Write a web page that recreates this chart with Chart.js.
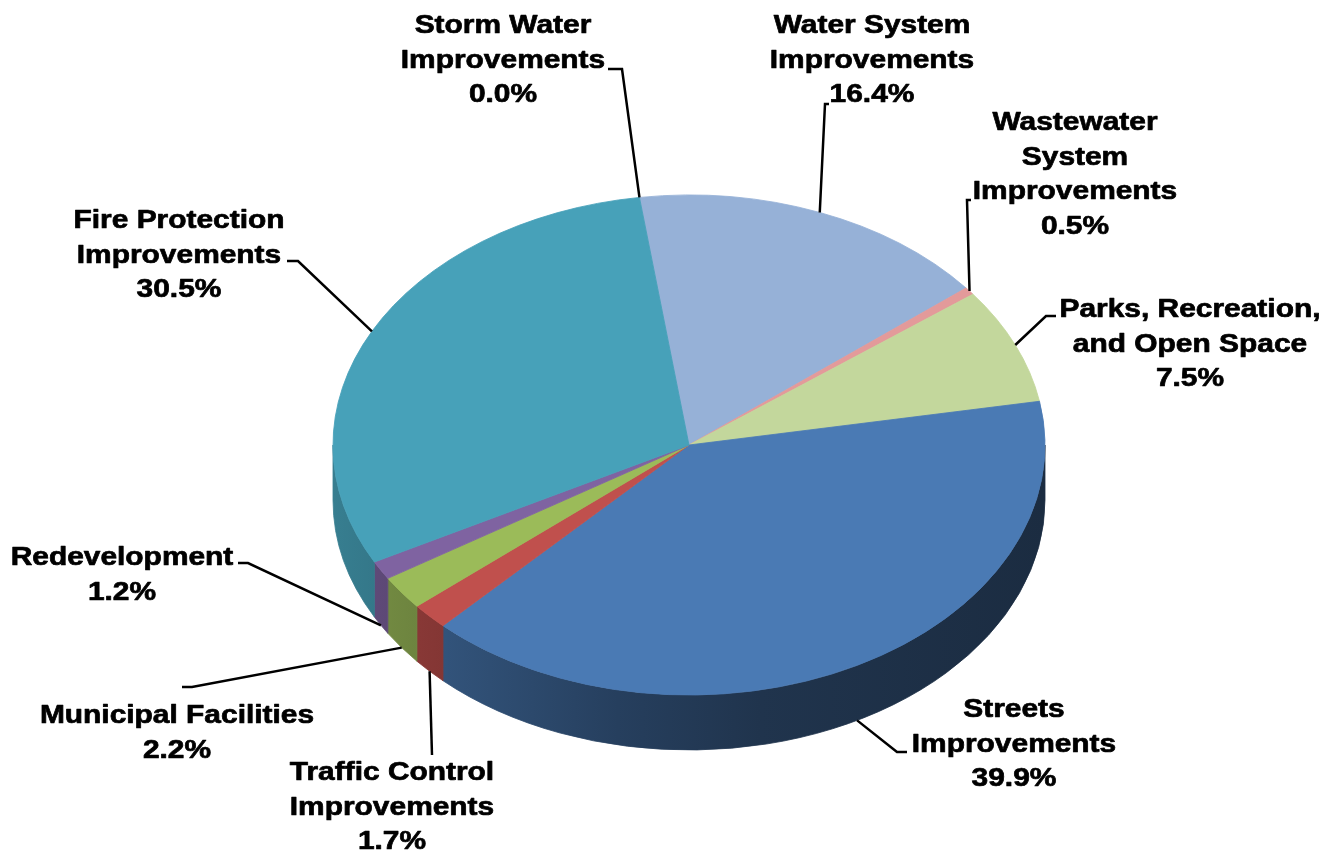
<!DOCTYPE html>
<html>
<head>
<meta charset="utf-8">
<title>Capital Improvements by Category</title>
<script src="https://cdn.jsdelivr.net/npm/chart.js@4.4.1/dist/chart.umd.min.js"></script>
<style>
  html, body { margin: 0; padding: 0; background: #fff; }
  #wrap { width: 1329px; height: 855px; }
</style>
</head>
<body>
<div id="wrap"><canvas id="pie" width="1329" height="855"></canvas></div>
<script>
// --- data ---
const categories = [
  'Storm Water Improvements', 'Water System Improvements', 'Wastewater System Improvements',
  'Parks, Recreation, and Open Space', 'Streets Improvements', 'Traffic Control Improvements',
  'Municipal Facilities', 'Redevelopment', 'Fire Protection Improvements'
];
const labelLines = [
  ['Storm Water', 'Improvements'],
  ['Water System', 'Improvements'],
  ['Wastewater', 'System', 'Improvements'],
  ['Parks, Recreation,', 'and Open Space'],
  ['Streets', 'Improvements'],
  ['Traffic Control', 'Improvements'],
  ['Municipal Facilities'],
  ['Redevelopment'],
  ['Fire Protection', 'Improvements']
];
const shares = [0.0, 16.4, 0.5, 7.5, 39.9, 1.7, 2.2, 1.2, 30.5];
const sliceColors = ['#F79646', '#96B1D7', '#E39A9A', '#C3D79C', '#4A7AB4', '#C0504D', '#9BBB59', '#7F63A1', '#47A1B9'];

// --- layout ---
const TILT = 250 / 356;   // vertical squash of the pie top
const DEPTH = 55;         // thickness of the 3d side
const LINE_H = 34.5;
const labelX = [503, 872, 1075, 1190, 1014, 392, 177, 122, 179];
const labelY = [33, 33, 130, 317, 717, 780, 723, 565, 228];
// leader line: elbow x, elbow y, end x
const elbows = [
  [622, 69, 608], [825, 104, 829], [967, 200, 971], [1046, 316, 1056], [897, 752, 907],
  [432, 755, 432], [192, 687, 182], [248, 563, 238], [298, 261, 287]
];
// side wall brightness from left to right
const shadeStops = [[0, 0.78], [0.16, 0.68], [0.4, 0.52], [0.6, 0.43], [1, 0.36]];

function shade(hex, f) {
  const n = parseInt(hex.slice(1), 16);
  const r = Math.round(((n >> 16) & 255) * f);
  const g = Math.round(((n >> 8) & 255) * f);
  const b = Math.round((n & 255) * f);
  return 'rgb(' + r + ',' + g + ',' + b + ')';
}

const pie3d = {
  id: 'pie3d',
  beforeDatasetsDraw(chart) {
    const ctx = chart.ctx;
    const arcs = chart.getDatasetMeta(0).data;
    const cx = arcs[0].x, cy = arcs[0].y, rx = arcs[0].outerRadius, ry = rx * TILT;

    arcs.forEach((arc, i) => {
      const s = Math.max(arc.startAngle, 0);
      const e = Math.min(arc.endAngle, Math.PI);
      if (e <= s) return;
      const grad = ctx.createLinearGradient(cx - rx, 0, cx + rx, 0);
      shadeStops.forEach(([p, f]) => grad.addColorStop(p, shade(sliceColors[i], f)));
      ctx.beginPath();
      ctx.ellipse(cx, cy, rx, ry, 0, s, e);
      ctx.lineTo(cx + rx * Math.cos(e), cy + ry * Math.sin(e) + DEPTH);
      ctx.ellipse(cx, cy + DEPTH, rx, ry, 0, e, s, true);
      ctx.closePath();
      ctx.fillStyle = grad;
      ctx.fill();
      ctx.strokeStyle = grad;
      ctx.lineWidth = 0.8;
      ctx.stroke();
    });

    // squash the top face into an ellipse
    ctx.save();
    ctx.translate(0, cy);
    ctx.scale(1, TILT);
    ctx.translate(0, -cy);
  },
  afterDatasetsDraw(chart) {
    chart.ctx.restore();
  },
  afterDraw(chart) {
    const ctx = chart.ctx;
    const arcs = chart.getDatasetMeta(0).data;

    // leader lines
    ctx.save();
    ctx.strokeStyle = '#000';
    ctx.lineWidth = 2.5;
    ctx.lineJoin = 'miter';
    arcs.forEach((arc, i) => {
      const mid = (arc.startAngle + arc.endAngle) / 2;
      const ax = arc.x + arc.outerRadius * Math.cos(mid);
      let ay = arc.y + arc.outerRadius * TILT * Math.sin(mid);
      if (Math.sin(mid) > 0) ay += DEPTH;
      const [ex, ey, endX] = elbows[i];
      ctx.beginPath();
      ctx.moveTo(ax, ay);
      ctx.lineTo(ex, ey);
      ctx.lineTo(endX, ey);
      ctx.stroke();
    });
    ctx.restore();

    // labels
    ctx.save();
    ctx.fillStyle = '#000';
    ctx.strokeStyle = '#000';
    ctx.lineWidth = 0.7;
    ctx.lineJoin = 'round';
    ctx.font = 'bold 26px "Liberation Sans", Arial, sans-serif';
    ctx.textAlign = 'center';
    ctx.textBaseline = 'alphabetic';
    labelLines.forEach((lines, i) => {
      const all = lines.concat([shares[i].toFixed(1) + '%']);
      all.forEach((txt, j) => {
        ctx.save();
        ctx.translate(labelX[i], labelY[i] + j * LINE_H);
        ctx.scale(1.15, 1);
        ctx.fillText(txt, 0, 0);
        ctx.strokeText(txt, 0, 0);
        ctx.restore();
      });
    });
    ctx.restore();
  }
};

new Chart(document.getElementById('pie'), {
  type: 'pie',
  data: {
    labels: categories,
    datasets: [{
      data: shares,
      backgroundColor: sliceColors,
      borderColor: sliceColors,
      borderWidth: c => (shares[c.dataIndex] > 0 ? 1 : 0),
      hoverOffset: 0,
      clip: false
    }]
  },
  options: {
    responsive: false,
    devicePixelRatio: 1,
    animation: false,
    events: [],
    rotation: -8,
    radius: 356,
    layout: { padding: { left: 333, right: 284, top: 89, bottom: 54 } },
    plugins: {
      legend: { display: false },
      tooltip: { enabled: false }
    }
  },
  plugins: [pie3d]
});
</script>
</body>
</html>
